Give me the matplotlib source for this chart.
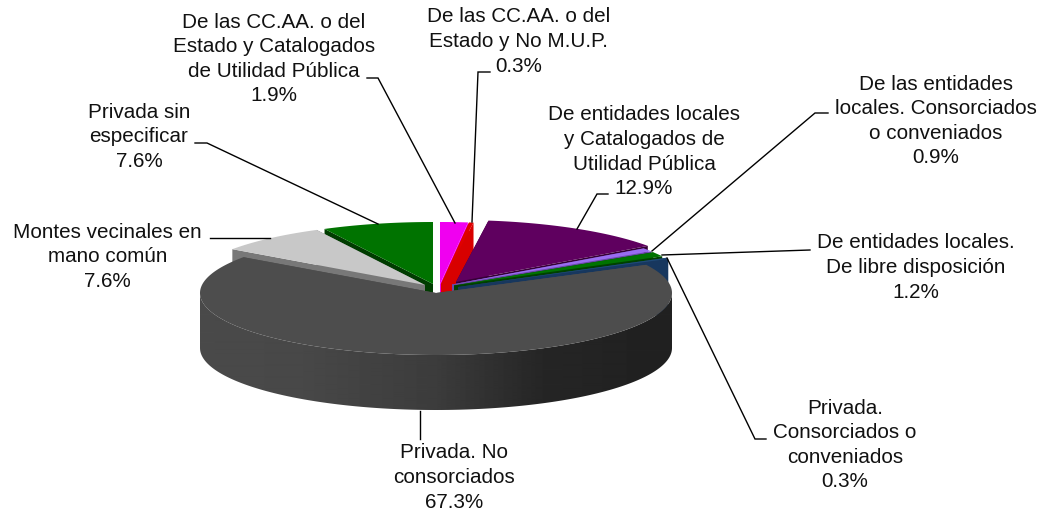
import numpy as np
from matplotlib import pyplot as plt
from matplotlib.patches import Polygon

plt.rcParams['font.family'] = ['Liberation Sans', 'DejaVu Sans']

etiquetas = [
    "De las CC.AA. o del\nEstado y Catalogados\nde Utilidad Pública",
    "De las CC.AA. o del\nEstado y No M.U.P.",
    "De entidades locales\ny Catalogados de\nUtilidad Pública",
    "De las entidades\nlocales. Consorciados\no conveniados",
    "De entidades locales.\nDe libre disposición",
    "Privada.\nConsorciados o\nconveniados",
    "Privada. No\nconsorciados",
    "Montes vecinales en\nmano común",
    "Privada sin\nespecificar",
]
valores = [1.9, 0.3, 12.9, 0.9, 1.2, 0.3, 67.3, 7.6, 7.6]
colores = ['#f000f0', '#e00000', '#5f005f', '#9a6cf0', '#007300', '#1f4a78', '#4d4d4d', '#c8c8c8', '#007300']
colores_pared = ['#f000f0', '#d80000', '#360036', '#6a48a8', '#004000', '#17375e', '#4d4d4d', '#787878', '#003c00']

# centro de cada porcion en pixeles (la torta esta "explotada")
centros = [(440, 284), (441, 284), (456, 282), (452, 284.5), (454, 285.5), (458, 287), (436, 293), (425, 285), (433, 284)]
# orden de dibujo, de atras hacia adelante
orden = [8, 0, 1, 7, 2, 3, 4, 5, 6]

# posicion del texto (centro en x, centro de la primera linea en y)
pos_texto = [(274, 22), (518.5, 17), (644, 115), (936, 84), (916, 243), (845, 408), (454, 453), (107.5, 232), (139, 112)]
lineas_guia = [
    [(367, 78), (378, 78), (455, 223)],
    [(490, 72), (478, 72), (472, 222)],
    [(608, 194), (597, 194), (577, 229)],
    [(828, 113), (815, 113), (652, 251)],
    [(810, 250), (662, 255)],
    [(766, 439), (755, 439), (667, 258)],
    [(420, 411), (420, 439)],
    [(210, 238), (270, 238)],
    [(195, 143), (207, 143), (378, 224)],
]

RX, RY, ALTO = 236, 62, 55


def punto(cx, cy, ang):
    a = np.radians(ang)
    return cx + RX * np.sin(a), cy - RY * np.cos(a)


fig = plt.figure(figsize=(10.47, 5.18), dpi=100)
ax = fig.add_axes([0, 0, 1, 1])

acum = np.concatenate([[0], np.cumsum(valores)]) * 3.6

for i in orden:
    cx, cy = centros[i]
    ini, fin = acum[i], acum[i + 1]
    angs = np.linspace(ini, fin, max(int(fin - ini) * 2, 2))
    arco = [punto(cx, cy, a) for a in angs]

    # lateral curvo con degrade, solo la parte de adelante
    if fin > 90 and ini < 270:
        frente = np.linspace(max(ini, 90), min(fin, 270), 200)
        borde = [punto(cx, cy, a) for a in frente]
        forma = Polygon(borde + [(x, y + ALTO) for x, y in borde[::-1]], closed=True, fc='none', ec='none')
        ax.add_patch(forma)
        grad_x = np.arange(190, 690)
        grad = np.interp(grad_x, [200, 300, 436, 540, 620, 672], [74, 72, 60, 38, 34, 33]) / 255
        im = ax.imshow(np.tile(grad, (2, 1)), cmap='gray', vmin=0, vmax=1, aspect='auto',
                       extent=(190, 690, 420, 280), interpolation='bilinear', zorder=2)
        im.set_clip_path(forma)

    # paredes radiales
    for extremo in (arco[0], arco[-1]):
        ax.add_patch(Polygon([(cx, cy), extremo, (extremo[0], extremo[1] + ALTO), (cx, cy + ALTO)],
                             closed=True, fc=colores_pared[i], ec='none', zorder=2))

    # tapa
    ax.add_patch(Polygon([(cx, cy)] + arco, closed=True, fc=colores[i], ec='none', zorder=2))

ax.set_xlim(0, 1047)
ax.set_ylim(518, 0)
ax.axis('off')

for linea in lineas_guia:
    xs, ys = zip(*linea)
    ax.plot(xs, ys, color='black', lw=1.0, solid_joinstyle='miter', zorder=3)

for nombre, val, (tx, ty) in zip(etiquetas, valores, pos_texto):
    lineas = nombre.split('\n') + ['%.1f%%' % val]
    for k, txt in enumerate(lineas):
        ax.text(tx, ty + k * 24.6, txt, ha='center', va='center', fontsize=14.9, color='#111111', zorder=4)

fig.savefig('out.png', dpi=100)
